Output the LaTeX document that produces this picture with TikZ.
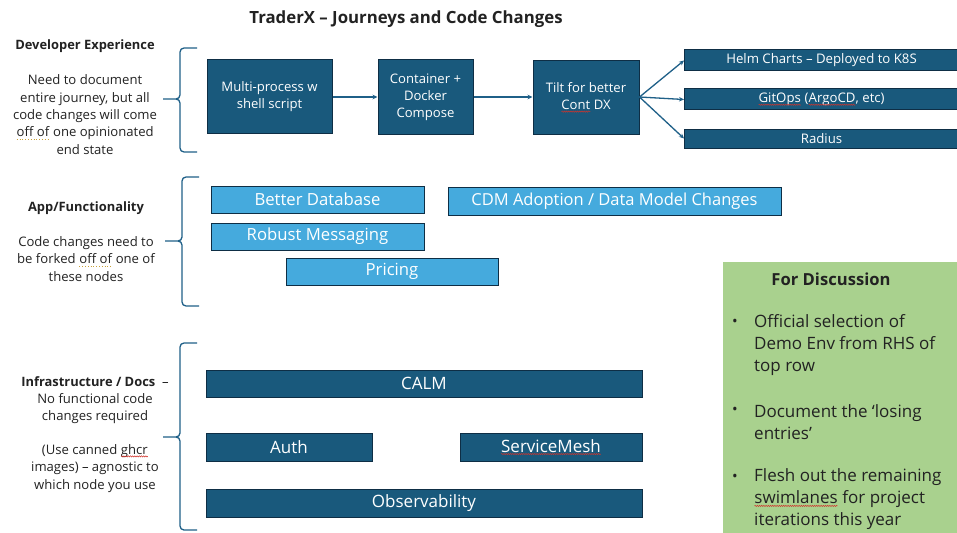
\documentclass[tikz,border=0pt]{standalone}
\usepackage{fontspec}
\setmainfont{Open Sans}
\usetikzlibrary{arrows.meta,decorations.pathmorphing}
\definecolor{dblue}{HTML}{19597C}
\definecolor{lblue}{HTML}{45AADD}
\definecolor{edge}{HTML}{0E2E45}
\definecolor{lgreen}{HTML}{A9D18E}
\definecolor{linec}{HTML}{1F6088}
\definecolor{txt}{HTML}{222222}
\definecolor{spellred}{HTML}{D0342C}
\definecolor{spellgold}{HTML}{C9A23A}
\tikzset{
  dbox/.style={draw=edge, line width=1pt, fill=dblue, text=white, align=center, inner sep=0pt},
  lbox/.style={draw=edge, line width=1pt, fill=lblue, text=white, align=center, inner sep=0pt},
  lab/.style={text=txt, align=center, inner sep=0pt},
  conn/.style={draw=linec, line width=1.3pt, -{Stealth[length=5pt,width=4.5pt]}},
  brace/.style={draw=linec, line width=1.3pt},
  disc/.style={text=txt, align=left, inner sep=0pt, font=\fontsize{17}{22}\selectfont},
  spellword/.style={inner sep=0pt, outer sep=0pt, minimum width=0pt, minimum height=0pt, anchor=base, draw=none, fill=none, align=none, font=}
}
\newcommand\swimbrace[4]{%
  \draw[brace] (#1+17,#2) -- (#1+4,#2) to[out=180,in=90] (#1,#2+4) -- (#1,#3-4) to[out=270,in=0] (#1-4,#3) -- (#1-17,#3);
  \draw[brace] (#1-4,#3) to[out=0,in=90] (#1,#3+4) -- (#1,#4-4) to[out=270,in=180] (#1+4,#4) -- (#1+17,#4);
}
\newcommand\spellw[1]{\tikz[baseline=(w.base),x=1pt,y=1pt]{\node[spellword](w) at (0,0) {#1};\draw[spellred,line width=0.5pt,decorate,decoration={snake,amplitude=0.6pt,segment length=2.2pt}] ([yshift=-2pt]w.base west) -- ([yshift=-2pt]w.base east);}}
\newcommand\spelld[1]{\tikz[baseline=(w.base),x=1pt,y=1pt]{\node[spellword](w) at (0,0) {#1};\draw[spellgold,line width=0.8pt,dotted] ([yshift=-2.3pt]w.base west) -- ([yshift=-2.3pt]w.base east);}}
\begin{document}
\begin{tikzpicture}[x=1pt,y=-1pt]
\clip (0,0) rectangle (957,532);
\fill[white] (0,0) rectangle (957,532);

% title
\node[lab, font=\bfseries\fontsize{16.8}{19}\selectfont] (title) at (406,19.5) {TraderX – Journeys and Code Changes};

% --- Developer Experience ---
\node[lab, font=\bfseries\fontsize{12.9}{15}\selectfont] (devh) at (85,46.5) {Developer Experience};
\node[lab, font=\fontsize{13.1}{17.3}\selectfont] (devt) at (85,114.5) {Need to document\\entire journey, but all\\code changes will come\\\spelld{off of} one opinionated\\end state};
\swimbrace{180}{48}{99}{152}

\node[dbox, minimum width=125pt, minimum height=73pt, font=\fontsize{13.1}{17}\selectfont] (mp) at (269.5,96.5) {Multi-process w\\shell script};
\node[dbox, minimum width=95pt, minimum height=74pt, font=\fontsize{13.1}{17}\selectfont] (cd) at (425.5,97) {Container +\\Docker\\Compose};
\node[dbox, minimum width=106pt, minimum height=73pt, font=\fontsize{13.1}{17}\selectfont] (tilt) at (586,97.5) {Tilt for better\\\spellw{Cont} DX};
\node[dbox, minimum width=280pt, minimum height=21pt, anchor=west, font=\fontsize{13.2}{16}\selectfont] (helm) at (684,60.5) {\hspace*{-6pt}Helm Charts – Deployed to K8S};
\node[dbox, minimum width=280pt, minimum height=21pt, anchor=west, font=\fontsize{13.2}{16}\selectfont] (git) at (684,99.5) {\hspace*{-6pt}\spellw{GitOps} (\spellw{ArgoCD}, etc)};
\node[dbox, minimum width=280pt, minimum height=19pt, anchor=west, font=\fontsize{13.2}{16}\selectfont] (rad) at (684,138.5) {\hspace*{-6pt}Radius};

\draw[conn] (mp.east |- 0,97) -- (cd.west |- 0,97);
\draw[conn] (cd.east |- 0,97) -- (tilt.west |- 0,97);
\draw[conn] (tilt.east |- 0,97) -- (helm.west);
\draw[conn] (tilt.east |- 0,97) -- (git.west);
\draw[conn] (tilt.east |- 0,97) -- (rad.west);

% --- App/Functionality ---
\node[lab, font=\bfseries\fontsize{12.9}{15}\selectfont] (apph) at (86,208.5) {App/Functionality};
\node[lab, font=\fontsize{13.1}{17.3}\selectfont] (appt) at (86,259) {Code changes need to\\be forked \spelld{off of} one of\\these nodes};
\swimbrace{182}{177}{241}{306}

\node[lbox, minimum width=213pt, minimum height=27pt, font=\fontsize{16.7}{19}\selectfont] (db) at (317.5,199.5) {Better Database};
\node[lbox, minimum width=213pt, minimum height=27pt, font=\fontsize{16.7}{19}\selectfont] (msg) at (317.5,236.5) {Robust Messaging};
\node[lbox, minimum width=212pt, minimum height=27pt, font=\fontsize{16.7}{19}\selectfont] (pr) at (392,271.5) {Pricing};
\node[lbox, minimum width=333pt, minimum height=28pt, font=\fontsize{16.5}{19}\selectfont] (cdm) at (614.5,201) {CDM Adoption / Data Model Changes};

% --- Infrastructure ---
\node[lab, font=\fontsize{13.1}{17.2}\selectfont] (inft) at (95,400) {\textbf{\fontsize{12.9}{17.2}\selectfont Infrastructure / Docs}\ \ –\\No functional code\\changes required};
\node[lab, font=\fontsize{13.1}{17.5}\selectfont] (inft2) at (95,468.5) {(Use canned \spellw{ghcr}\\images) – agnostic to\\which node you use};
\swimbrace{180}{343}{437}{530}

\node[dbox, minimum width=436pt, minimum height=27pt, font=\fontsize{17}{19}\selectfont] (calm) at (424,383.5) {CALM};
\node[dbox, minimum width=166pt, minimum height=28pt, font=\fontsize{17}{19}\selectfont] (auth) at (289,447) {Auth};
\node[dbox, minimum width=182pt, minimum height=28pt, font=\fontsize{17}{19}\selectfont] (sm) at (551,447) {\spellw{ServiceMesh}};
\node[dbox, minimum width=436pt, minimum height=28pt, font=\fontsize{17}{19}\selectfont] (obs) at (424,503) {Observability};

% --- For Discussion ---
\fill[lgreen] (723,262) rectangle (960,535);
\node[lab, font=\bfseries\fontsize{16.6}{19}\selectfont] (fdh) at (831,279) {For Discussion};
\node[disc, font=\fontsize{15}{22}\selectfont] (d1b) at (735,323) {•};
\node[disc, anchor=west] (d1) at (754,345) {Official selection of\\Demo Env from RHS of\\top row};
\node[disc, font=\fontsize{15}{22}\selectfont] (d2b) at (735,411) {•};
\node[disc, anchor=west] (d2) at (754,422) {Document the ‘losing\\entries’};
\node[disc, font=\fontsize{15}{22}\selectfont] (d3b) at (735,478) {•};
\node[disc, anchor=west] (d3) at (754,499.5) {Flesh out the remaining\\\spellw{swimlanes} for project\\iterations this year};
\end{tikzpicture}
\end{document}
